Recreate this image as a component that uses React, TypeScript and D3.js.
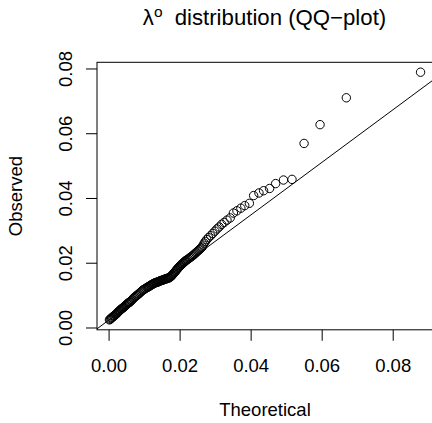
import React from "react";
import * as d3 from "d3";

const theoretical = [
  0.0001, 0.0003, 0.0005, 0.0007, 0.0009, 0.0011, 0.0013, 0.0015, 0.0017, 0.0019,
  0.0021, 0.0023, 0.0025, 0.0027, 0.0029, 0.0031, 0.0033, 0.0035, 0.0037, 0.0039,
  0.0041, 0.0043, 0.0045, 0.0047, 0.0049, 0.0051, 0.0053, 0.0055, 0.0057, 0.0059,
  0.0062, 0.0065, 0.0068, 0.0071, 0.0074, 0.0077, 0.0080, 0.0083, 0.0086, 0.0089,
  0.0092, 0.0095, 0.0098, 0.0101, 0.0104, 0.0107, 0.0109, 0.0111, 0.0113, 0.0115,
  0.0117, 0.0119, 0.0121, 0.0123, 0.0125, 0.0127, 0.0129, 0.0131, 0.0133, 0.0135,
  0.0137, 0.0139, 0.0141, 0.0143, 0.0145, 0.0147, 0.0149, 0.0151, 0.0153, 0.0155,
  0.0157, 0.0159, 0.0161, 0.0163, 0.0165, 0.0167, 0.0169, 0.0171, 0.0173, 0.0175,
  0.0177, 0.0179, 0.0181, 0.0183, 0.0185, 0.0187, 0.0189, 0.0191, 0.0193, 0.0195,
  0.0197, 0.0199, 0.0201, 0.0203, 0.0205, 0.0207, 0.0209, 0.0211, 0.0213, 0.0215,
  0.0217, 0.0220, 0.0223, 0.0226, 0.0229, 0.0232, 0.0235, 0.0238, 0.0241, 0.0244,
  0.0247, 0.0250, 0.0253, 0.0256, 0.0259, 0.0262, 0.0265, 0.0268, 0.0271, 0.0275,
  0.0280, 0.0286, 0.0292, 0.0298, 0.0304, 0.0310, 0.0317, 0.0324, 0.0332, 0.0341,
  0.0350, 0.0360, 0.0371, 0.0382, 0.0395, 0.0407, 0.0422, 0.0435, 0.0452, 0.0469,
  0.0491, 0.0515, 0.0549, 0.0594, 0.0668, 0.0877,
];

const observed = [
  0.0025, 0.0027, 0.0029, 0.0031, 0.0033, 0.0035, 0.0037, 0.0038, 0.0040, 0.0042,
  0.0044, 0.0046, 0.0049, 0.0051, 0.0053, 0.0055, 0.0057, 0.0059, 0.0061, 0.0062,
  0.0064, 0.0066, 0.0068, 0.0070, 0.0072, 0.0074, 0.0076, 0.0078, 0.0079, 0.0081,
  0.0084, 0.0087, 0.0091, 0.0094, 0.0097, 0.0100, 0.0102, 0.0105, 0.0108, 0.0111,
  0.0114, 0.0117, 0.0119, 0.0121, 0.0123, 0.0125, 0.0126, 0.0128, 0.0129, 0.0130,
  0.0132, 0.0133, 0.0134, 0.0136, 0.0137, 0.0138, 0.0139, 0.0140, 0.0141, 0.0141,
  0.0142, 0.0143, 0.0144, 0.0145, 0.0146, 0.0147, 0.0147, 0.0148, 0.0149, 0.0150,
  0.0151, 0.0151, 0.0152, 0.0153, 0.0154, 0.0154, 0.0155, 0.0157, 0.0158, 0.0160,
  0.0162, 0.0165, 0.0168, 0.0170, 0.0173, 0.0175, 0.0178, 0.0181, 0.0183, 0.0186,
  0.0188, 0.0191, 0.0193, 0.0195, 0.0197, 0.0199, 0.0201, 0.0203, 0.0205, 0.0207,
  0.0209, 0.0211, 0.0213, 0.0216, 0.0218, 0.0221, 0.0223, 0.0226, 0.0229, 0.0232,
  0.0235, 0.0238, 0.0241, 0.0244, 0.0247, 0.0250, 0.0256, 0.0262, 0.0267, 0.0273,
  0.0279, 0.0285, 0.0292, 0.0299, 0.0306, 0.0312, 0.0320, 0.0326, 0.0333, 0.0340,
  0.0355, 0.0362, 0.0370, 0.0378, 0.0385, 0.0409, 0.0417, 0.0424, 0.0431, 0.0446,
  0.0457, 0.0459, 0.0570, 0.0628, 0.0711, 0.0790,
];

const xTicks = [0, 0.02, 0.04, 0.06, 0.08];
const yTicks = [0, 0.02, 0.04, 0.06, 0.08];
const qqLineCoef = [0.0025, 0.812]; // intercept, slope

const titleMain = "λ";
const titleSup = "o";
const titleRest = "distribution (QQ−plot)";
const xLabel = "Theoretical";
const yLabel = "Observed";

const W = 432;
const H = 423;
const plot = { left: 97, right: 433, top: 62.3, bottom: 329.8 };
const FONT = "'Liberation Sans', Arial, Helvetica, sans-serif";

function padded(vals: number[]): [number, number] {
  const [lo, hi] = d3.extent(vals) as [number, number];
  const r = hi - lo;
  return [lo - 0.04 * r, hi + 0.04 * r];
}

export default function App() {
  const x = d3.scaleLinear().domain(padded(theoretical)).range([plot.left, plot.right]);
  const y = d3.scaleLinear().domain(padded(observed)).range([plot.bottom, plot.top]);
  const fmt = d3.format(".2f");
  const [x0, x1] = x.domain();
  const lineY = (v: number) => qqLineCoef[0] + qqLineCoef[1] * v;
  const linePath = d3.line<number>().x((d) => x(d)).y((d) => y(lineY(d)))([x0, x1]);
  const tick = 11;

  return (
    <svg
      width={W}
      height={H}
      viewBox={`0 0 ${W} ${H}`}
      style={{ position: "absolute", left: 0, top: 0, background: "#fff" }}
      fontFamily={FONT}
    >
      <rect x={0} y={0} width={W} height={H} fill="#fff" />
      <defs>
        <clipPath id="plotclip">
          <rect x={plot.left} y={plot.top} width={plot.right - plot.left} height={plot.bottom - plot.top} />
        </clipPath>
      </defs>
      {/* points */}
      <g fill="none" stroke="#000" strokeWidth={1}>
        {theoretical.map((t, i) => (
          <circle key={i} cx={x(t)} cy={y(observed[i])} r={4.2} />
        ))}
      </g>
      {/* qq line */}
      <path d={linePath || ""} stroke="#000" strokeWidth={1} fill="none" clipPath="url(#plotclip)" />
      {/* box */}
      <rect
        x={plot.left}
        y={plot.top}
        width={plot.right - plot.left}
        height={plot.bottom - plot.top}
        fill="none"
        stroke="#000"
        strokeWidth={1}
      />
      {/* x axis */}
      <g stroke="#000" strokeWidth={1}>
        {xTicks.map((t) => (
          <line key={t} x1={x(t)} x2={x(t)} y1={plot.bottom} y2={plot.bottom + tick} />
        ))}
      </g>
      <g fontSize={18.5} textAnchor="middle" fill="#000">
        {xTicks.map((t) => (
          <text key={t} x={x(t)} y={372}>
            {fmt(t)}
          </text>
        ))}
      </g>
      {/* y axis */}
      <g stroke="#000" strokeWidth={1}>
        {yTicks.map((t) => (
          <line key={t} x1={plot.left - tick} x2={plot.left} y1={y(t)} y2={y(t)} />
        ))}
      </g>
      <g fontSize={18.5} textAnchor="middle" fill="#000">
        {yTicks.map((t) => (
          <text key={t} transform={`translate(71.7,${y(t)}) rotate(-90)`}>
            {fmt(t)}
          </text>
        ))}
      </g>
      {/* labels */}
      <text x={(plot.left + plot.right) / 2} y={416} fontSize={18.5} textAnchor="middle" fill="#000">
        {xLabel}
      </text>
      <text
        transform={`translate(21.5,${(plot.top + plot.bottom) / 2}) rotate(-90)`}
        fontSize={18.5}
        textAnchor="middle"
        fill="#000"
      >
        {yLabel}
      </text>
      {/* title */}
      <text x={264.5} y={25} fontSize={22.2} textAnchor="middle" fill="#000">
        <tspan>{titleMain}</tspan>
        <tspan dy={-8} fontSize={15.5}>
          {titleSup}
        </tspan>
        <tspan dy={8} dx={6}>
          {" " + titleRest}
        </tspan>
      </text>
    </svg>
  );
}
